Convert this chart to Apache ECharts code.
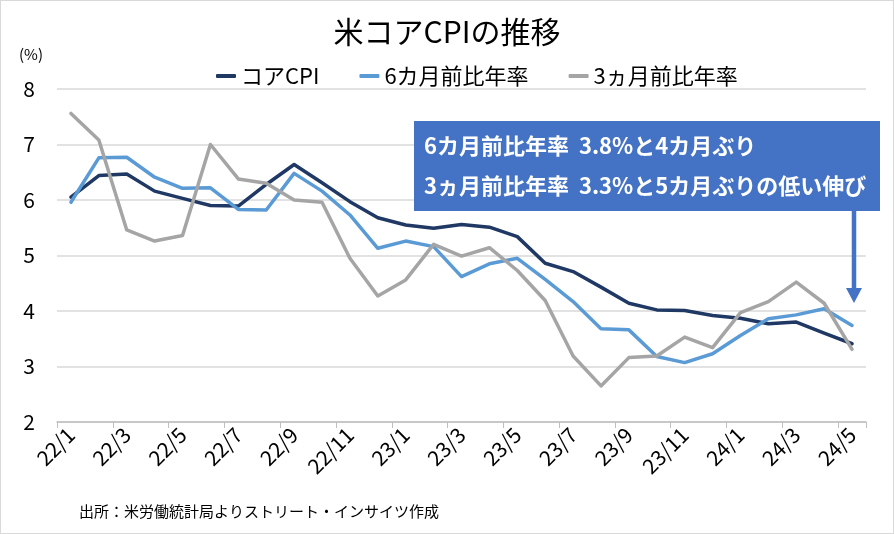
<!DOCTYPE html>
<html>
<head>
<meta charset="utf-8">
<script src="https://cdn.jsdelivr.net/npm/echarts@6/dist/echarts.min.js"></script>
<style>
html,body{margin:0;padding:0;background:#fff;}
#c{width:894px;height:534px;box-sizing:border-box;border:1px solid #d9d9d9;}
</style>
</head>
<body>
<div id="c"></div>
<script>
const categories = ['22/1','22/2','22/3','22/4','22/5','22/6','22/7','22/8','22/9','22/10','22/11','22/12',
  '23/1','23/2','23/3','23/4','23/5','23/6','23/7','23/8','23/9','23/10','23/11','23/12',
  '24/1','24/2','24/3','24/4','24/5'];
const coreCPI = [6.05,6.44,6.47,6.16,6.03,5.90,5.89,6.28,6.64,6.31,5.97,5.68,5.55,5.49,5.56,5.51,5.34,4.86,4.71,4.43,4.14,4.02,4.01,3.92,3.87,3.77,3.80,3.60,3.41];
const sixMonth = [5.96,6.76,6.77,6.41,6.21,6.22,5.83,5.82,6.48,6.16,5.73,5.13,5.26,5.16,4.62,4.85,4.95,4.57,4.17,3.68,3.66,3.18,3.07,3.23,3.56,3.86,3.93,4.04,3.74];
const threeMonth = [7.56,7.08,5.46,5.26,5.36,7.00,6.38,6.30,6.00,5.96,4.95,4.27,4.56,5.20,4.99,5.14,4.73,4.19,3.19,2.65,3.16,3.19,3.53,3.34,3.97,4.17,4.52,4.14,3.31];
const seriesNames = ['コアCPI','6カ月前比年率','3ヵ月前比年率'];
const yTicks = {min:2, max:8, interval:1};
const titleText = '米コアCPIの推移';
const unitText = '(%)';
const sourceText = '出所：米労働統計局よりストリート・インサイツ作成';
const noteLines = ['6カ月前比年率  3.8%と4カ月ぶり','3ヵ月前比年率  3.3%と5カ月ぶりの低い伸び'];

const FONT = '"Noto Sans CJK JP", "Noto Sans", sans-serif';
const colors = ['#1F3864','#5B9BD5','#A5A5A5'];
const chart = echarts.init(document.getElementById('c'), null, {renderer:'canvas'});

const mk = (name, data, color) => ({
  name, type:'line', data, symbol:'none', smooth:false,
  lineStyle:{width:3.5, color, cap:'round', join:'round'},
  itemStyle:{color}
});

chart.setOption({
  animation:false,
  textStyle:{fontFamily:FONT},
  title:{text:titleText, left:'center', top:11,
    textStyle:{fontSize:30, fontWeight:'normal', color:'#000', fontFamily:FONT}},
  legend:{top:59, left:210, itemWidth:20, itemHeight:4, itemGap:40, icon:'roundRect',
    textStyle:{fontSize:22, color:'#000', fontFamily:FONT},
    data:seriesNames},
  grid:{left:56, right:27, top:88, bottom:111},
  xAxis:{type:'category', data:categories, boundaryGap:true,
    axisLine:{lineStyle:{color:'#bfbfbf', width:1.5}},
    axisTick:{show:true, interval:1, length:6, lineStyle:{color:'#bfbfbf'}},
    axisLabel:{interval:1, rotate:45, fontSize:21, color:'#000', margin:9, fontFamily:FONT},
    splitLine:{show:false}},
  yAxis:{type:'value', min:yTicks.min, max:yTicks.max, interval:yTicks.interval,
    axisLine:{show:false}, axisTick:{show:false},
    axisLabel:{fontSize:21, color:'#000', margin:22, fontFamily:FONT},
    splitLine:{lineStyle:{color:'#d9d9d9', width:1.5}}},
  series:[
    mk(seriesNames[0], coreCPI, colors[0]),
    mk(seriesNames[1], sixMonth, colors[1]),
    mk(seriesNames[2], threeMonth, colors[2])
  ],
  graphic:[
    {type:'text', left:18, top:46, z:100, style:{text:unitText, fontSize:15, fill:'#000', fontFamily:FONT}},
    {type:'text', left:78, top:503, z:100, style:{text:sourceText, fontSize:15, fill:'#000', fontFamily:FONT}},
    {type:'rect', z:100, shape:{x:413, y:120, width:466, height:90}, style:{fill:'#4472C4'}},
    {type:'text', z:101, x:423, y:145, style:{text:noteLines[0], fontSize:22, fontWeight:'bold', fill:'#fff', fontFamily:FONT, verticalAlign:'middle'}},
    {type:'text', z:101, x:423, y:185, style:{text:noteLines[1], fontSize:22, fontWeight:'bold', fill:'#fff', fontFamily:FONT, verticalAlign:'middle'}},
    {type:'line', z:100, shape:{x1:853, y1:210, x2:853, y2:288}, style:{stroke:'#4472C4', lineWidth:4.5}},
    {type:'polygon', z:100, shape:{points:[[845,287],[861,287],[853,302]]}, style:{fill:'#4472C4'}}
  ]
});
</script>
</body>
</html>
